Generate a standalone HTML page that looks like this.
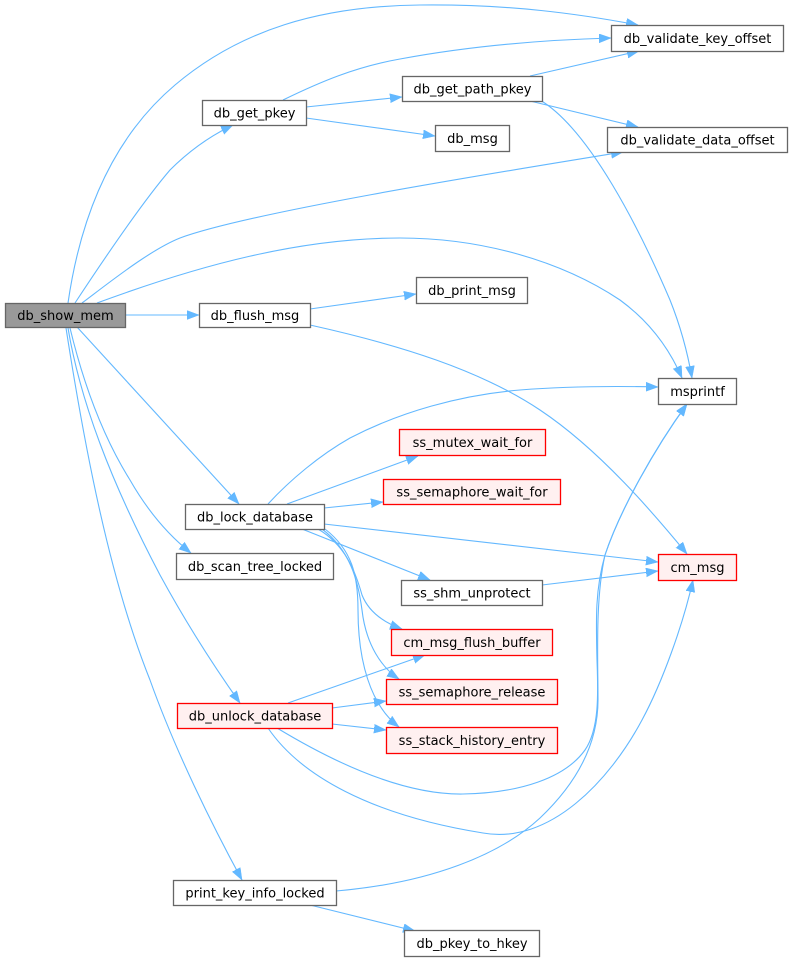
<!DOCTYPE html>
<html><head><meta charset="utf-8"><style>
html,body{margin:0;padding:0;background:#fff;}
svg{display:block;}
text{font-family:"DejaVu Sans","Liberation Sans",sans-serif;font-size:13px;fill:#000;text-anchor:middle;}
.e{fill:none;stroke:#63b8ff;stroke-width:1.1;}
.n{fill:#fff;stroke:#666;stroke-width:1.3;}
.r{fill:#fff0f0;stroke:#ff0000;stroke-width:1.3;}
.g{fill:#999;stroke:#666;stroke-width:1.3;}
</style></head><body>
<svg width="792" height="961" viewBox="0 0 792 961" xmlns="http://www.w3.org/2000/svg">
<defs>
<marker id="a" markerUnits="userSpaceOnUse" markerWidth="13" markerHeight="10" refX="12" refY="4.5" orient="auto">
<path d="M0,0 L12,4.5 L0,9 z" fill="#63b8ff" stroke="#63b8ff" stroke-width="0.5"/>
</marker>
</defs>
<g marker-end="url(#a)">
<path class="e" d="M68,303 C 80,220 110,140 175,85 C 240,30 320,6 420,5 C 510,4 580,14 638,25"/>
<path class="e" d="M75,303 C 100,265 140,205 170,170 C 190,150 210,136 233,125"/>
<path class="e" d="M82,303 C 110,282 150,250 180,238 C 250,212 500,172 623,152"/>
<path class="e" d="M97,303 C 200,265 300,238 400,238 C 480,238 560,260 620,300 C 650,322 670,350 682,378"/>
<path class="e" d="M125,315 L199,315"/>
<path class="e" d="M77,327 L239,504"/>
<path class="e" d="M70,328 C 85,390 105,440 130,480 C 150,515 172,538 191,553"/>
<path class="e" d="M68,328 C 80,400 110,480 160,575 C 190,630 218,672 240,703"/>
<path class="e" d="M66,328 C 85,450 110,580 150,680 C 175,750 212,825 242,880"/>
<path class="e" d="M283,100 C 320,82 355,67 400,59 C 470,46 540,40 611,38"/>
<path class="e" d="M306,107 L402,97"/>
<path class="e" d="M306,118 L435,136"/>
<path class="e" d="M530,76 L639,51"/>
<path class="e" d="M530,101 L638,127"/>
<path class="e" d="M540,100 C 590,130 640,230 670,300 C 682,330 688,355 692,378"/>
<path class="e" d="M310,309 L416,294"/>
<path class="e" d="M310,325 C 400,345 480,370 540,410 C 600,450 655,515 687,554"/>
<path class="e" d="M268,504 C 290,480 320,455 350,438 C 400,412 460,395 520,390 C 570,386 615,386 658,387"/>
<path class="e" d="M287,504 L418,456"/>
<path class="e" d="M324,508 L383,502"/>
<path class="e" d="M324,524 L658,562"/>
<path class="e" d="M302,529 L430,580"/>
<path class="e" d="M318,529 C 345,545 355,570 362,595 C 370,615 388,624 402,629"/>
<path class="e" d="M322,529 C 350,550 358,580 362,610 C 366,645 382,668 399,679"/>
<path class="e" d="M325,529 C 352,550 358,575 358,610 C 358,660 370,705 399,727"/>
<path class="e" d="M288,703 L425,655"/>
<path class="e" d="M332,708 L386,701"/>
<path class="e" d="M332,724 L386,730"/>
<path class="e" d="M277,728 C 330,760 400,795 463,794 C 520,793 565,778 585,750 C 600,728 598,690 597,660 C 596,620 595,590 605,555 C 620,510 655,448 687,404"/>
<path class="e" d="M268,728 C 300,775 370,815 483,833 C 550,845 610,780 642,720 C 662,683 683,625 693,580"/>
<path class="e" d="M336,891 C 430,883 500,855 540,818 C 580,780 598,740 598,700 C 598,660 595,600 605,555 C 620,510 655,448 687,404"/>
<path class="e" d="M310,905 L415,931"/>
<path class="e" d="M542,585 L658,571"/>
</g>

<rect class="g" x="5.5" y="303.5" width="120" height="24"/><text x="65.5" y="320">db_show_mem</text>
<rect class="n" x="202.5" y="100.5" width="104" height="25"/><text x="254.5" y="117.5">db_get_pkey</text>
<rect class="n" x="199.5" y="303.5" width="111" height="24"/><text x="255" y="320">db_flush_msg</text>
<rect class="n" x="611.5" y="25.5" width="172" height="26"/><text x="697.5" y="43">db_validate_key_offset</text>
<rect class="n" x="402.5" y="76.5" width="140" height="25"/><text x="472.5" y="93.5">db_get_path_pkey</text>
<rect class="n" x="435.5" y="125.5" width="74" height="26"/><text x="472.5" y="143">db_msg</text>
<rect class="n" x="607.5" y="127.5" width="180" height="25"/><text x="697.5" y="144.5">db_validate_data_offset</text>
<rect class="n" x="416.5" y="277.5" width="111" height="26"/><text x="472" y="295">db_print_msg</text>
<rect class="n" x="658.5" y="378.5" width="78" height="26"/><text x="697.5" y="396">msprintf</text>
<rect class="r" x="399.5" y="429.5" width="146" height="26"/><text x="472.5" y="447">ss_mutex_wait_for</text>
<rect class="r" x="383.5" y="479.5" width="177" height="25"/><text x="472" y="496.5">ss_semaphore_wait_for</text>
<rect class="n" x="185.5" y="504.5" width="139" height="25"/><text x="255" y="521.5">db_lock_database</text>
<rect class="n" x="176.5" y="553.5" width="157" height="26"/><text x="255" y="571">db_scan_tree_locked</text>
<rect class="r" x="658.5" y="554.5" width="78" height="26"/><text x="697.5" y="572">cm_msg</text>
<rect class="n" x="401.5" y="580.5" width="141" height="25"/><text x="472" y="597.5">ss_shm_unprotect</text>
<rect class="r" x="391.5" y="629.5" width="161" height="26"/><text x="472" y="647">cm_msg_flush_buffer</text>
<rect class="r" x="386.5" y="679.5" width="171" height="25"/><text x="472" y="696.5">ss_semaphore_release</text>
<rect class="r" x="177.5" y="703.5" width="155" height="25"/><text x="255" y="720.5">db_unlock_database</text>
<rect class="r" x="386.5" y="727.5" width="171" height="26"/><text x="472" y="745">ss_stack_history_entry</text>
<rect class="n" x="173.5" y="880.5" width="163" height="25"/><text x="255" y="897.5">print_key_info_locked</text>
<rect class="n" x="404.5" y="930.5" width="135" height="26"/><text x="472" y="948">db_pkey_to_hkey</text>
</svg>
</body></html>
